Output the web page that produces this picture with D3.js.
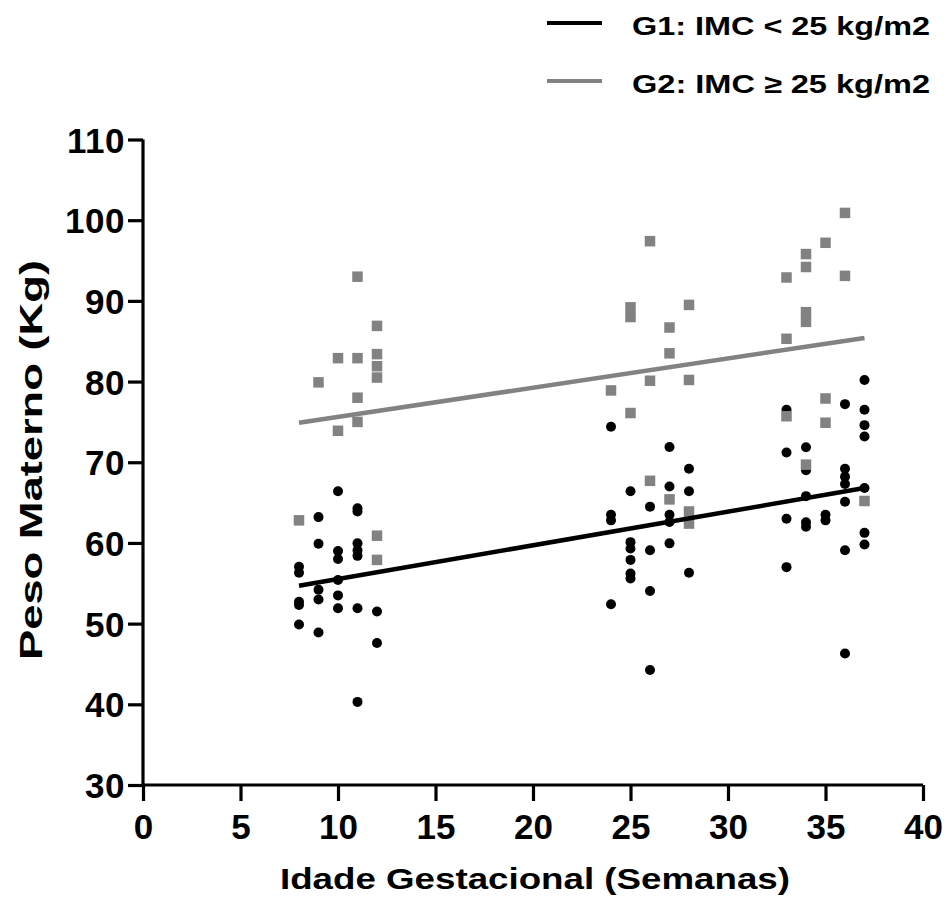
<!DOCTYPE html>
<html>
<head>
<meta charset="utf-8">
<script src="https://cdn.jsdelivr.net/npm/d3@7/dist/d3.min.js"></script>
<style>
  html, body { margin: 0; padding: 0; background: #fff; }
  svg { display: block; }
  text { font-family: "Liberation Sans", Arial, sans-serif; font-weight: bold; fill: #000; }
</style>
</head>
<body>
<svg id="chart" width="949" height="899"></svg>
<script>
// ---- Data ----
const xTicks = [0, 5, 10, 15, 20, 25, 30, 35, 40];
const yTicks = [30, 40, 50, 60, 70, 80, 90, 100, 110];

const g1Weeks = [
  8, 8, 8, 8, 8,
  9, 9, 9, 9, 9,
  10, 10, 10, 10, 10, 10,
  11, 11, 11, 11, 11, 11, 11,
  12, 12,
  24, 24, 24, 24,
  25, 25, 25, 25, 25, 25,
  26, 26, 26, 26,
  27, 27, 27, 27, 27,
  28, 28, 28,
  33, 33, 33, 33,
  34, 34, 34, 34, 34,
  35, 35,
  36, 36, 36, 36, 36, 36, 36,
  37, 37, 37, 37, 37, 37, 37
];
const g1Weight = [
  57.05, 56.3, 52.7, 52.3, 49.9,
  63.2, 59.9, 54.2, 53.0, 48.9,
  66.4, 59.0, 58.0, 55.4, 53.5, 51.9,
  64.3, 63.9, 59.95, 59.1, 58.4, 51.9, 40.3,
  51.5, 47.6,
  74.4, 63.5, 62.8, 52.4,
  66.4, 60.1, 59.3, 57.9, 56.2, 55.6,
  64.5, 59.1, 54.05, 44.25,
  71.9, 67.0, 63.5, 62.6, 59.95,
  69.2, 66.4, 56.3,
  76.5, 71.2, 63.0, 57.0,
  71.85, 69.0, 65.8, 62.55, 62.0,
  63.5, 62.8,
  77.2, 69.2, 68.2, 67.3, 65.1, 59.1, 46.3,
  80.2, 76.5, 74.6, 73.2, 66.8, 61.25, 59.8
];

const g2Weeks = [
  8,
  9,
  10, 10,
  11, 11, 11, 11,
  12, 12, 12, 12, 12, 12,
  24,
  25, 25, 25,
  26, 26, 26,
  27, 27, 27,
  28, 28, 28, 28,
  33, 33, 33,
  34, 34, 34, 34, 34,
  35, 35, 35,
  36, 36,
  37
];
const g2Weight = [
  62.8,
  79.9,
  82.9, 73.9,
  93.0, 82.9, 78.0, 75.0,
  86.9, 83.4, 81.9, 80.5, 60.9, 57.9,
  78.9,
  89.2, 88.0, 76.1,
  97.4, 80.1, 67.7,
  86.7, 83.5, 65.4,
  89.5, 80.2, 63.9, 62.4,
  92.9, 85.3, 75.7,
  95.8, 94.2, 88.6, 87.4, 69.7,
  97.2, 77.9, 74.9,
  100.9, 93.1,
  65.2
];

// fitted regression lines (endpoints)
const fitWeeks = [8, 37];
const g1Fit = [54.7, 66.8];
const g2Fit = [74.9, 85.4];

const legendLabels = ["G1: IMC < 25 kg/m2", "G2: IMC \u2265 25 kg/m2"];
const xTitle = "Idade Gestacional (Semanas)";
const yTitle = "Peso Materno (Kg)";

// ---- Drawing ----
const BLACK = "#000";
const GRAY = "#828282";
const FONT = "'Liberation Sans', Arial, sans-serif";

const svg = d3.select("#chart");
const x = d3.scaleLinear().domain([0, 40]).range([143, 923]);
const y = d3.scaleLinear().domain([30, 110]).range([785, 139.5]);

// axes
const xAxis = svg.append("g").attr("transform", `translate(0,${y(30)})`)
  .call(d3.axisBottom(x).tickValues(xTicks).tickSize(16).tickPadding(13).tickSizeOuter(0));
const yAxis = svg.append("g").attr("transform", `translate(${x(0)},0)`)
  .call(d3.axisLeft(y).tickValues(yTicks).tickSize(15).tickPadding(3).tickSizeOuter(0));

[xAxis, yAxis].forEach(a => {
  a.select(".domain").attr("stroke", BLACK).attr("stroke-width", 3.2);
  a.selectAll(".tick line").attr("stroke", BLACK).attr("stroke-width", 3.2);
  a.selectAll(".tick text").attr("fill", BLACK)
    .style("font-family", FONT).style("font-weight", "bold");
});
xAxis.selectAll(".tick text").style("font-size", "35px");
yAxis.selectAll(".tick text").style("font-size", "35px").style("letter-spacing", "0.5px").attr("dy", "0.36em");
xAxis.select(".domain").attr("d", `M${x(0)},0H${x(40)}`);
yAxis.select(".domain").attr("d", `M0,${y(30)}V${y(110)}`);

// axis titles
svg.append("text").attr("x", 280).attr("y", 889)
  .attr("textLength", 510).attr("lengthAdjust", "spacingAndGlyphs")
  .style("font-size", "30px").text(xTitle);
svg.append("text").attr("transform", `translate(42,660) rotate(-90)`)
  .attr("textLength", 400).attr("lengthAdjust", "spacingAndGlyphs")
  .style("font-size", "32px").text(yTitle);

// points G1 (circles)
svg.append("g").selectAll("circle").data(g1Weeks.map((w, i) => [w, g1Weight[i]]))
  .join("circle").attr("cx", d => x(d[0])).attr("cy", d => y(d[1])).attr("r", 5).attr("fill", BLACK);

// points G2 (squares)
const sq = 10.5;
svg.append("g").selectAll("rect").data(g2Weeks.map((w, i) => [w, g2Weight[i]]))
  .join("rect").attr("x", d => x(d[0]) - sq / 2).attr("y", d => y(d[1]) - sq / 2)
  .attr("width", sq).attr("height", sq).attr("fill", GRAY);

// regression lines
const line = d3.line().x(d => x(d[0])).y(d => y(d[1]));
svg.append("path").datum(fitWeeks.map((w, i) => [w, g2Fit[i]])).attr("d", line)
  .attr("stroke", GRAY).attr("stroke-width", 4.5).attr("fill", "none");
svg.append("path").datum(fitWeeks.map((w, i) => [w, g1Fit[i]])).attr("d", line)
  .attr("stroke", BLACK).attr("stroke-width", 4.5).attr("fill", "none");

// legend
const legY = [23, 81];
const legCol = [BLACK, GRAY];
legendLabels.forEach((lab, i) => {
  svg.append("line").attr("x1", 547).attr("x2", 602).attr("y1", legY[i]).attr("y2", legY[i])
    .attr("stroke", legCol[i]).attr("stroke-width", 4);
  svg.append("text").attr("x", 632).attr("y", legY[i] + 12)
    .attr("textLength", 298).attr("lengthAdjust", "spacingAndGlyphs")
    .style("font-size", "26px").text(lab);
});
</script>
</body>
</html>
